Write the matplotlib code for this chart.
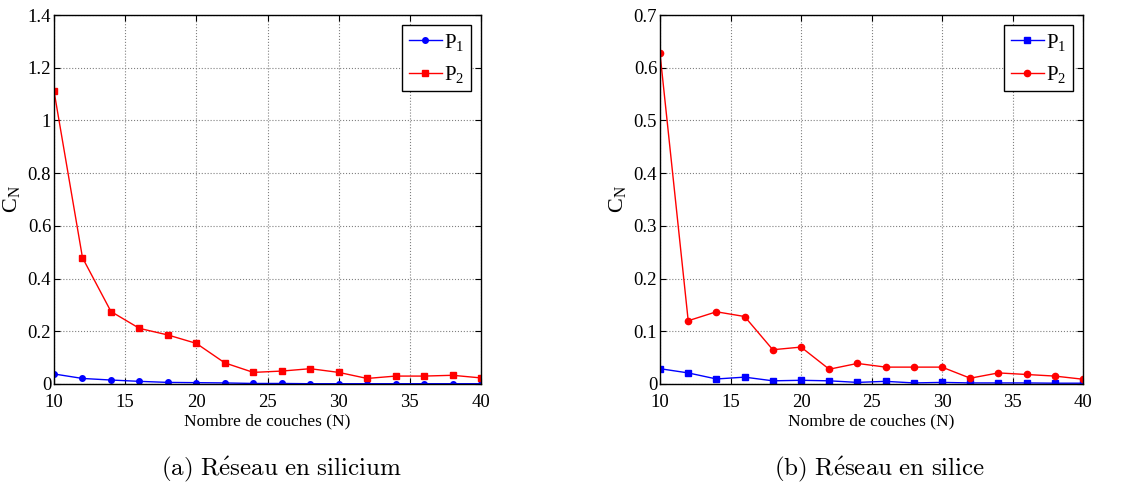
import matplotlib
matplotlib.use('Agg')
import matplotlib.pyplot as plt
import numpy as np

# nombre de couches
N = [10, 12, 14, 16, 18, 20, 22, 24, 26, 28, 30, 32, 34, 36, 38, 40]

# (a) reseau en silicium
si_P1 = [0.038, 0.021, 0.015, 0.010, 0.006, 0.005, 0.004, 0.002, 0.002, 0.001,
         0.001, 0.001, 0.001, 0.001, 0.001, 0.001]
si_P2 = [1.111, 0.479, 0.275, 0.211, 0.186, 0.154, 0.080, 0.044, 0.049, 0.058,
         0.044, 0.021, 0.030, 0.030, 0.033, 0.023]

# (b) reseau en silice
sio_P1 = [0.029, 0.021, 0.0095, 0.013, 0.006, 0.007, 0.006, 0.003, 0.005, 0.002,
          0.003, 0.002, 0.002, 0.002, 0.0015, 0.0015]
sio_P2 = [0.627, 0.120, 0.137, 0.128, 0.065, 0.070, 0.028, 0.039, 0.032, 0.032,
          0.032, 0.011, 0.021, 0.018, 0.015, 0.009]

captions = [r'$\mathrm{(a)\ R\acute{e}seau\ en\ silicium}$',
            r'$\mathrm{(b)\ R\acute{e}seau\ en\ silice}$']

plt.rcParams['font.family'] = ['Liberation Serif', 'DejaVu Serif']
plt.rcParams['mathtext.fontset'] = 'custom'
plt.rcParams['mathtext.rm'] = 'Liberation Serif'

fig = plt.figure(figsize=(11.35, 4.94), dpi=100)
ax1 = fig.add_axes([0.0476, 0.2227, 0.3762, 0.7469])
ax2 = fig.add_axes([0.5815, 0.2227, 0.3727, 0.7469])


def SetupAxes(ax, ymax, ystep):
    ax.set_xlim(10, 40)
    ax.set_ylim(0, ymax)
    ax.set_xticks(range(10, 41, 5))
    ax.set_yticks(np.round(np.arange(0, ymax + ystep / 2, ystep), 2))
    ax.set_yticklabels(['%g' % v for v in ax.get_yticks()])
    ax.grid(True, linestyle=':', color='#808080', linewidth=0.8)
    ax.tick_params(direction='in', top=True, right=True, labelsize=13.5,
                   length=4)
    ax.tick_params(axis='x', pad=7)
    ax.tick_params(axis='y', pad=2)
    for s in ax.spines.values():
        s.set_linewidth(1.0)
    ax.set_xlabel('Nombre de couches (N)', fontsize=12.5, labelpad=2)
    ax.set_ylabel(r'$\mathregular{C_N}$', fontsize=16, labelpad=4)


SetupAxes(ax1, 1.4, 0.2)
ax1.plot(N, si_P1, '-o', color='b', markersize=4, linewidth=1, label=r'$\mathregular{P_1}$')
ax1.plot(N, si_P2, '-s', color='r', markersize=4, linewidth=1, label=r'$\mathregular{P_2}$')

SetupAxes(ax2, 0.7, 0.1)
ax2.plot(N, sio_P1, '-s', color='b', markersize=4, linewidth=1, label=r'$\mathregular{P_1}$')
ax2.plot(N, sio_P2, '-o', color='r', markersize=4.5, linewidth=1, label=r'$\mathregular{P_2}$')

for ax in (ax1, ax2):
    leg = ax.legend(loc='upper right', fontsize=15, fancybox=False, framealpha=1,
                    edgecolor='k', handlelength=1.6, handletextpad=0.1,
                    borderpad=0.3, labelspacing=0.55, borderaxespad=0.5)
    leg.get_frame().set_linewidth(1.0)

# legendes sous les figures
fig.text(0.248, 0.05, captions[0], ha='center', va='center', fontsize=18,
         math_fontfamily='cm')
fig.text(0.775, 0.05, captions[1], ha='center', va='center', fontsize=18,
         math_fontfamily='cm')

fig.savefig('out.png', dpi=100)
